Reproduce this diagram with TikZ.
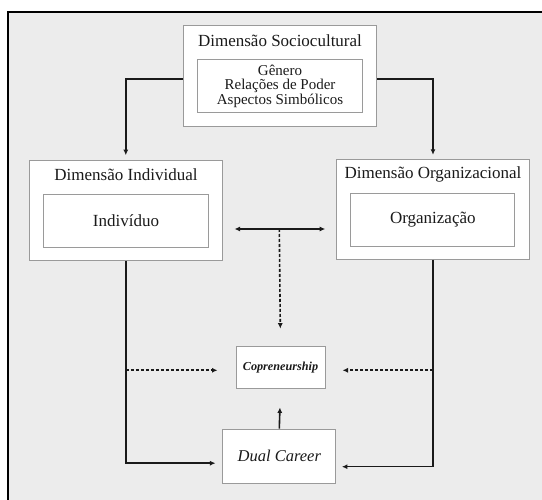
\documentclass[tikz,border=0pt]{standalone}
\usepackage{fontspec}
\setmainfont{Liberation Serif}
\usetikzlibrary{arrows.meta}
\definecolor{bgcol}{HTML}{ECECEC}
\definecolor{boxline}{HTML}{9A9A9A}
\definecolor{ink}{HTML}{1A1A1A}
\begin{document}
\begin{tikzpicture}[x=1pt,y=-1pt,
  box/.style={draw=boxline,line width=1pt,fill=white,inner sep=0pt,text=ink},
  ttl/.style={inner sep=0pt,text=ink,font=\fontsize{17}{19}\selectfont},
  conn/.style={draw=ink,line width=1.6pt,-{Latex[length=5.5pt,width=5pt]}},
  dconn/.style={conn,dash pattern=on 3pt off 2pt}
]
\useasboundingbox (0,0) rectangle (542,500);
% background frame
\fill[bgcol] (8,12) rectangle (543,501);
\draw[black,line width=1.5pt] (8,501) -- (8,12) -- (543,12);

% Sociocultural
\node[box,minimum width=193.4pt,minimum height=101pt] (soc) at (280,76.2) {};
\node[ttl] (soct) at (280,40.7) {Dimensão Sociocultural};
\node[box,minimum width=165.4pt,minimum height=52.7pt,align=center,
  font=\fontsize{15}{14.3}\selectfont] (soci) at (280,86.3)
  {Gênero\\Relações de Poder\\Aspectos Simbólicos};

% Individual
\node[box,minimum width=193pt,minimum height=100pt] (ind) at (125.8,210.7) {};
\node[ttl] (indt) at (126,175) {Dimensão Individual};
\node[box,minimum width=165.4pt,minimum height=53pt,
  font=\fontsize{17}{19}\selectfont] (indi) at (126,220.8) {Indivíduo};

% Organizational
\node[box,minimum width=192.6pt,minimum height=100pt] (org) at (433,209.3) {};
\node[ttl] (orgt) at (433,174) {Dimensão Organizacional};
\node[box,minimum width=164.3pt,minimum height=52.7pt,
  font=\fontsize{17}{19}\selectfont] (orgi) at (432.8,219.7) {Organização};

% Copreneurship
\node[box,minimum width=89pt,minimum height=42.3pt,
  font=\fontsize{12.2}{14}\selectfont\bfseries\itshape] (cop) at (280.5,367.8) {Copreneurship};

% Dual Career
\node[box,minimum width=113.3pt,minimum height=54.3pt,
  font=\fontsize{16.5}{19}\selectfont\itshape] (dual) at (279.3,456.2) {Dual Career};

\coordinate (mid) at (279.3,229);

% connectors
\draw[conn,shorten >=5pt] ([yshift=-3pt]soc.west) -| (ind.north);
\draw[conn,shorten >=4pt] ([yshift=-3pt]soc.east) -| (org.north);
\draw[conn,{Latex[length=5.5pt,width=5pt]}-{Latex[length=5.5pt,width=5pt]},
  shorten <=11.7pt,shorten >=11pt] (ind.east |- mid) -- (org.west |- mid);
\draw[dconn,shorten >=17.5pt] (mid) -- (cop.north);
\draw[conn,shorten >=6.7pt] (ind.south) |- ([yshift=-7pt]dual.west);
\draw[conn,shorten >=5.5pt] (org.south) |- ([yshift=-10.5pt]dual.east);
\draw[dconn,shorten >=18pt] ([yshift=-2.5pt]ind.south |- cop.west) -- ([yshift=-2.5pt]cop.west);
\draw[dconn,shorten >=17pt] ([yshift=-2.5pt]org.south |- cop.east) -- ([yshift=-2.5pt]cop.east);
\draw[conn,shorten >=18pt] (dual.north) -- (cop.south);
\end{tikzpicture}
\end{document}
